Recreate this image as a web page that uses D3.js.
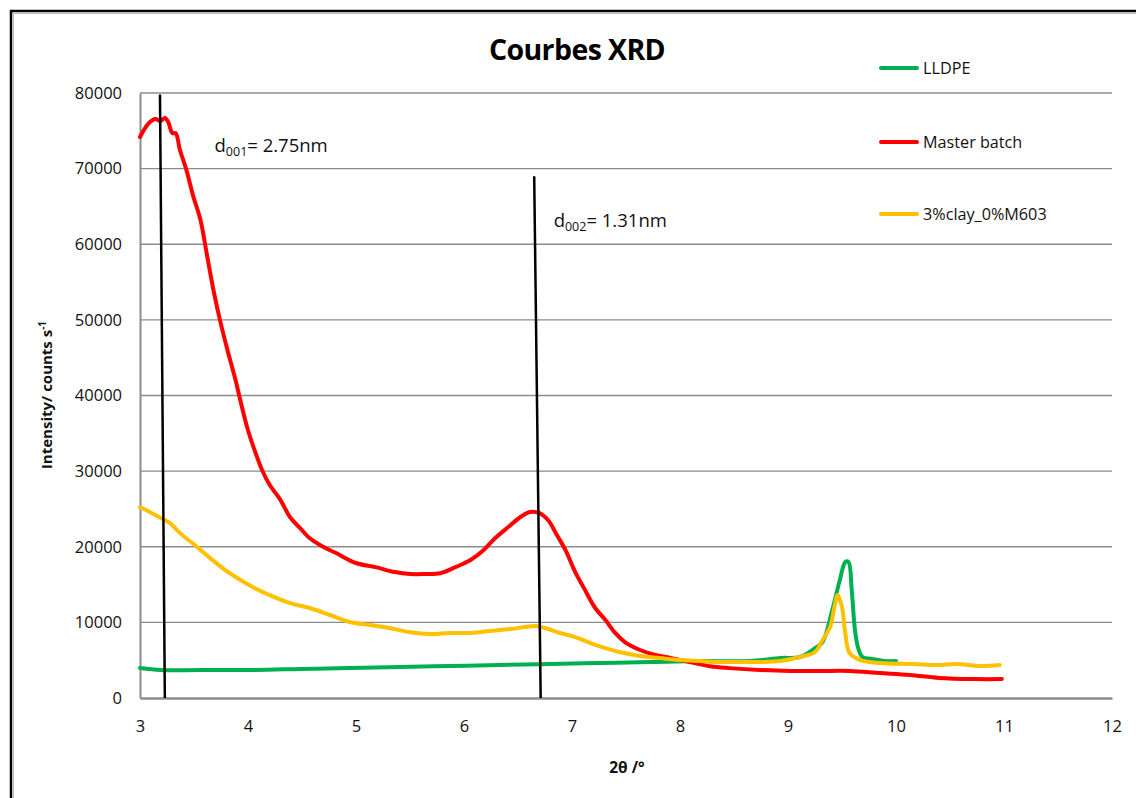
<!DOCTYPE html>
<html><head><meta charset="utf-8">
<script src="https://cdn.jsdelivr.net/npm/d3@7/dist/d3.min.js"></script>
<style>body{margin:0;background:#fff;} svg{display:block;font-family:"Open Sans",sans-serif;}</style>
</head><body>
<svg id="c" width="1136" height="798"></svg>
<script>
const xTicks = [3,4,5,6,7,8,9,10,11,12];
const yTicks = [0,10000,20000,30000,40000,50000,60000,70000,80000];

const masterX = [3,3.074,3.14,3.19,3.23,3.26,3.30,3.33,3.37,3.43,3.49,3.56,3.62,3.68,3.74,3.81,3.88,3.94,4.0,4.06,4.13,4.20,4.30,4.39,4.48,4.57,4.67,4.81,5.0,5.18,5.36,5.5,5.64,5.78,5.92,6.06,6.18,6.29,6.41,6.52,6.61,6.70,6.78,6.86,6.94,7.03,7.12,7.21,7.31,7.40,7.49,7.63,7.77,7.91,8.09,8.28,8.46,8.74,9.02,9.30,9.57,9.85,10.13,10.4,10.73,10.98];
const masterY = [74180,75900,76560,76300,76700,76200,74700,74700,72460,69800,66500,63200,58600,53950,50000,46000,42300,38700,35400,32800,30150,28200,26200,23900,22500,21150,20200,19200,17850,17300,16650,16400,16400,16500,17300,18250,19550,21150,22600,23900,24600,24450,23500,21550,19550,16650,14300,12000,10300,8600,7400,6350,5700,5300,4750,4200,3950,3700,3570,3570,3570,3300,3040,2650,2500,2500];

const clayX = [3,3.09,3.18,3.28,3.37,3.51,3.65,3.79,3.93,4.06,4.20,4.39,4.57,4.76,4.94,5.13,5.31,5.5,5.69,5.87,6.06,6.24,6.43,6.57,6.66,6.75,6.89,7.03,7.17,7.31,7.44,7.63,7.81,8.0,8.19,8.37,8.56,8.74,8.93,9.11,9.25,9.32,9.39,9.43,9.46,9.50,9.53,9.57,9.67,9.85,10.16,10.38,10.56,10.78,10.96];
const clayY = [25250,24600,23900,23100,21800,20200,18500,16900,15600,14550,13600,12550,11900,10975,10050,9650,9250,8700,8460,8600,8600,8860,9120,9390,9520,9250,8600,8060,7270,6600,6080,5550,5290,5020,4890,4760,4760,4760,4890,5420,6080,7670,9390,12030,13620,12030,8600,5950,5020,4630,4500,4360,4500,4230,4360];

const lldpeX = [3,3.19,3.56,4.02,4.48,4.94,5.41,5.87,6.33,6.80,7.26,7.72,8.19,8.65,8.93,9.11,9.25,9.32,9.41,9.48,9.53,9.56,9.59,9.62,9.65,9.69,9.78,9.89,10.0];
const lldpeY = [3970,3700,3700,3700,3830,3970,4100,4230,4360,4500,4630,4760,4890,4890,5290,5420,6600,7400,11640,15600,17980,17980,14280,8990,6600,5420,5160,4890,4890];

const seriesNames = ["LLDPE","Master batch","3%clay_0%M603"];
const seriesColors = ["#00B050","#FF0000","#FFC000"];

const svg = d3.select("#c");
// outer frame
svg.append("rect").attr("x",11).attr("y",11).attr("width",1140).attr("height",800).attr("fill","none").attr("stroke","#000").attr("stroke-width",2.5);
svg.append("rect").attr("x",13.5).attr("y",13.5).attr("width",1140).attr("height",800).attr("fill","none").attr("stroke","#bbb").attr("stroke-width",1);

const x = d3.scaleLinear().domain([3,12]).range([140,1112]);
const y = d3.scaleLinear().domain([0,80000]).range([698,93]);

// gridlines
svg.append("g").selectAll("line").data(yTicks.filter(d=>d>0)).join("line")
  .attr("x1",140).attr("x2",1112).attr("y1",d=>y(d)).attr("y2",d=>y(d))
  .attr("stroke","#8c8c8c").attr("stroke-width",1.3);

// axes
const yAxis = svg.append("g").attr("transform","translate(140,0)")
  .call(d3.axisLeft(y).tickValues(yTicks).tickSize(0).tickPadding(18).tickFormat(d3.format("d")));
yAxis.select(".domain").attr("stroke","#8c8c8c").attr("stroke-width",2);
yAxis.selectAll("text").attr("font-size",16.5).attr("fill","#111").attr("font-family","Open Sans");

const xAxis = svg.append("g").attr("transform","translate(0,698)")
  .call(d3.axisBottom(x).tickValues(xTicks).tickSize(0).tickPadding(22).tickFormat(d3.format("d")));
xAxis.select(".domain").attr("stroke","#8c8c8c").attr("stroke-width",2.5);
xAxis.selectAll("text").attr("font-size",16.5).attr("fill","#111").attr("font-family","Open Sans");

// lines
const line = d3.line().x(d=>x(d[0])).y(d=>y(d[1])).curve(d3.curveCatmullRom.alpha(0.5));
const series = [
  d3.zip(lldpeX, lldpeY),
  d3.zip(masterX, masterY),
  d3.zip(clayX, clayY)
];
[0,1,2].forEach(i=>{
  svg.append("path").datum(series[i]).attr("d",line).attr("fill","none")
    .attr("stroke",seriesColors[i]).attr("stroke-width",4).attr("stroke-linejoin","round").attr("stroke-linecap","round");
});

// vertical marker lines (slightly slanted as in original)
const markers = [
  {x1:3.185, y1:79800, x2:3.23, y2:0},
  {x1:6.65, y1:69000, x2:6.71, y2:0}
];
svg.append("g").selectAll("line").data(markers).join("line")
  .attr("x1",d=>x(d.x1)).attr("y1",d=>y(d.y1)).attr("x2",d=>x(d.x2)).attr("y2",d=>y(d.y2))
  .attr("stroke","#000").attr("stroke-width",2.5);

// annotations
function annot(px,py,sub,val){
  const t = svg.append("text").attr("x",px).attr("y",py).attr("font-size",18.5).attr("fill","#111");
  t.append("tspan").text("d");
  t.append("tspan").attr("font-size",12.5).attr("dy",4).text(sub);
  t.append("tspan").attr("dy",-4).text("= "+val);
}
annot(x(3.69),152,"001","2.75nm");
annot(x(6.83),227,"002","1.31nm");

// title
svg.append("text").attr("x",577).attr("y",60).attr("text-anchor","middle")
  .attr("font-size",28.5).attr("font-weight","bold").attr("fill","#000").attr("letter-spacing",-0.6).text("Courbes XRD");

// legend
const legY = [68,142,214];
seriesNames.forEach((n,i)=>{
  svg.append("line").attr("x1",881).attr("x2",917).attr("y1",legY[i]).attr("y2",legY[i])
    .attr("stroke",seriesColors[i]).attr("stroke-width",4).attr("stroke-linecap","round");
  svg.append("text").attr("x",923).attr("y",legY[i]+6).attr("font-size",16.2).attr("fill","#111").text(n);
});

// axis titles
const yl = svg.append("text").attr("transform","translate(52,395) rotate(-90)").attr("text-anchor","middle")
  .attr("font-size",15).attr("font-weight","bold").attr("fill","#111");
yl.append("tspan").text("Intensity/ counts s");
yl.append("tspan").attr("font-size",10).attr("dy",-6).text("-1");

svg.append("text").attr("x",627).attr("y",773).attr("text-anchor","middle")
  .attr("font-size",15.5).attr("font-weight","bold").attr("fill","#111").text("2θ /°");
</script>
</body></html>
